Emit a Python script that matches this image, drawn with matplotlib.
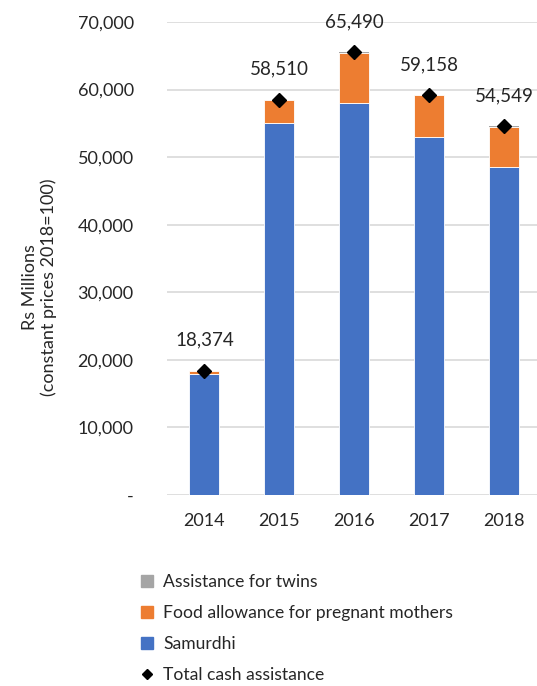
import matplotlib
matplotlib.use("Agg")
import matplotlib.pyplot as plt
from matplotlib.lines import Line2D
from matplotlib.ticker import FuncFormatter

plt.rcParams['font.family'] = ['Lato', 'DejaVu Sans']
TEXT = '#262626'

years = ['2014', '2015', '2016', '2017', '2018']
samurdhi = [17900, 55000, 58000, 53000, 48500]
food_allowance = [470, 3480, 7460, 6130, 6020]
twins = [4, 30, 30, 28, 29]
total = [18374, 58510, 65490, 59158, 54549]

BLUE = '#4472C4'
ORANGE = '#ED7D31'
GREY = '#A5A5A5'

fig = plt.figure(figsize=(5.37, 6.86), dpi=100)
ax = fig.add_axes([0.311, 0.2784, 0.697, 0.6895])

x = range(len(years))
w = 0.4
ax.bar(x, samurdhi, width=w, color=BLUE, edgecolor='white', linewidth=0.6, zorder=2)
base = [s for s in samurdhi]
ax.bar(x, food_allowance, width=w, bottom=base, color=ORANGE,
       edgecolor='white', linewidth=0.6, zorder=2)
base = [s + f for s, f in zip(samurdhi, food_allowance)]
ax.bar(x, twins, width=w, bottom=base, color=GREY, linewidth=0, zorder=2)
ax.plot(x, total, linestyle='none', marker='D', markersize=7, color='black', zorder=3)

for i, t in enumerate(total):
    ax.annotate(f"{t:,}", (i, t), xytext=(0, 22), textcoords='offset points',
                ha='center', va='center', fontsize=13.5, color=TEXT)

ax.set_xlim(-0.5, len(years) - 0.5)
ax.set_ylim(0, 70000)
ax.set_yticks(range(0, 70001, 10000))
ax.yaxis.set_major_formatter(FuncFormatter(lambda v, p: '-' if v == 0 else f"{int(v):,}"))
ax.set_xticks(list(x))
ax.set_xticklabels(years)
ax.grid(axis='y', color='#D9D9D9', linewidth=1.2, zorder=0)
ax.set_axisbelow(True)
for s in ax.spines.values():
    s.set_visible(False)
ax.tick_params(length=0, labelsize=13, colors=TEXT)
ax.tick_params(axis='y', pad=24)
ax.tick_params(axis='x', pad=13)
ax.set_ylabel("Rs Millions\n(constant prices 2018=100)", fontsize=13, color=TEXT,
              linespacing=1.15)
ax.yaxis.set_label_coords(-0.294, 0.44)

handles = [
    Line2D([], [], linestyle='none', marker='s', markersize=9, color=GREY),
    Line2D([], [], linestyle='none', marker='s', markersize=9, color=ORANGE),
    Line2D([], [], linestyle='none', marker='s', markersize=9, color=BLUE),
    Line2D([], [], linestyle='none', marker='D', markersize=5, color='black'),
]
labels = ['Assistance for twins', 'Food allowance for pregnant mothers',
          'Samurdhi', 'Total cash assistance']
fig.legend(handles, labels, loc='upper left', bbox_to_anchor=(0.245, 0.176),
           frameon=False, fontsize=12.6, handlelength=0.8, handletextpad=0.5,
           labelspacing=0.86, borderpad=0, labelcolor=TEXT)

fig.savefig('out.png', dpi=100)
